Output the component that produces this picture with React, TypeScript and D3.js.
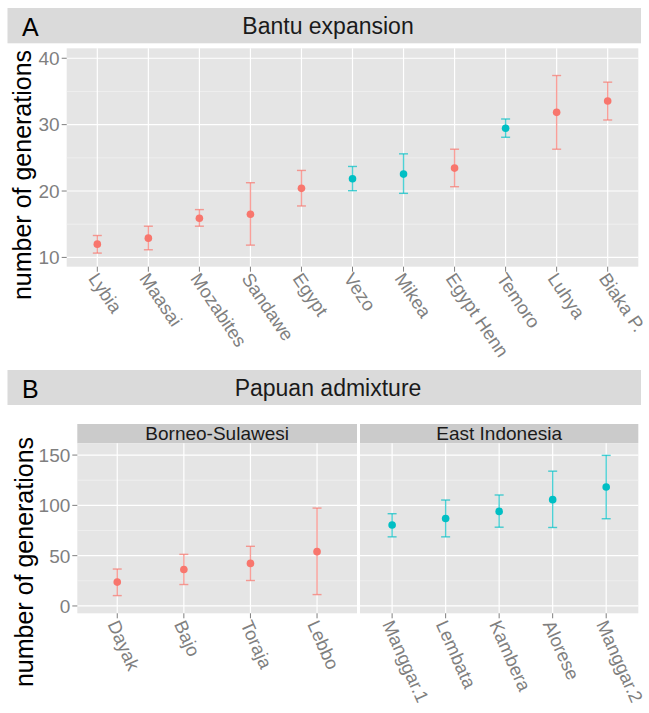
import * as d3 from 'd3';

const RED = '#F8766D';
const TEAL = '#00BFC4';
const FONT = 'Liberation Sans, Arial, Helvetica, sans-serif';

// Panel A: Bantu expansion
const bantuPops = ['Lybia', 'Maasai', 'Mozabites', 'Sandawe', 'Egypt', 'Vezo', 'Mikea', 'Egypt Henn', 'Temoro', 'Luhya', 'Biaka P.'];
const bantuMean = [12.0, 12.9, 15.9, 16.5, 20.4, 21.85, 22.55, 23.45, 29.45, 31.85, 33.55];
const bantuLow = [10.65, 11.15, 14.7, 11.85, 17.75, 20.05, 19.65, 20.65, 28.1, 26.3, 30.7];
const bantuHigh = [13.3, 14.7, 17.2, 21.25, 23.1, 23.7, 25.6, 26.3, 30.85, 37.4, 36.4];
const bantuGroup = [0, 0, 0, 0, 0, 1, 1, 0, 1, 0, 0];
const bantuTicks = [10, 20, 30, 40];
const bantuMinor = [15, 25, 35];

// Panel B: Papuan admixture
const borneoPops = ['Dayak', 'Bajo', 'Toraja', 'Lebbo'];
const borneoMean = [23.7, 36.3, 42.3, 54];
const borneoLow = [10.3, 21.3, 25.3, 11.3];
const borneoHigh = [36.7, 51.3, 59.3, 97.3];
const eastPops = ['Manggar.1', 'Lembata', 'Kambera', 'Alorese', 'Manggar.2'];
const eastMean = [80.5, 87, 94, 105.7, 118.3];
const eastLow = [68.7, 68.7, 78.3, 78, 86.7];
const eastHigh = [91.7, 105.3, 110.3, 134, 149.7];
const papuanTicks = [0, 50, 100, 150];
const papuanMinor = [25, 75, 125];

type PanelProps = {
  x0: number; x1: number; y0: number; y1: number;
  pops: string[]; mean: number[]; low: number[]; high: number[]; colors: string[];
  domain: [number, number]; ticks: number[]; minor: number[];
  showY: boolean; angle: number; labelSize: number;
};

function Panel(p: PanelProps) {
  const x = d3.scalePoint<string>().domain(p.pops).range([p.x0, p.x1]).padding(0.6);
  const y = d3.scaleLinear().domain(p.domain).range([p.y1, p.y0]);
  return (
    <g>
      <rect x={p.x0} y={p.y0} width={p.x1 - p.x0} height={p.y1 - p.y0} fill="#e5e5e5" />
      {p.minor.map(t => (
        <line key={'m' + t} x1={p.x0} x2={p.x1} y1={y(t)} y2={y(t)} stroke="#f2f2f2" strokeWidth={0.7} />
      ))}
      {p.ticks.map(t => (
        <line key={'g' + t} x1={p.x0} x2={p.x1} y1={y(t)} y2={y(t)} stroke="#ffffff" strokeWidth={1.2} />
      ))}
      {p.pops.map(d => (
        <line key={'v' + d} x1={x(d)} x2={x(d)} y1={p.y0} y2={p.y1} stroke="#ffffff" strokeWidth={1.2} />
      ))}
      {p.pops.map((d, i) => {
        const cx = x(d)!;
        return (
          <g key={'e' + d} stroke={p.colors[i]} strokeOpacity={0.7} strokeWidth={1.4}>
            <line x1={cx} x2={cx} y1={y(p.low[i])} y2={y(p.high[i])} />
            <line x1={cx - 4.5} x2={cx + 4.5} y1={y(p.low[i])} y2={y(p.low[i])} />
            <line x1={cx - 4.5} x2={cx + 4.5} y1={y(p.high[i])} y2={y(p.high[i])} />
          </g>
        );
      })}
      {p.pops.map((d, i) => (
        <circle key={'c' + d} cx={x(d)} cy={y(p.mean[i])} r={3.8} fill={p.colors[i]} />
      ))}
      {p.showY && p.ticks.map(t => (
        <g key={'yt' + t}>
          <line x1={p.x0 - 5} x2={p.x0} y1={y(t)} y2={y(t)} stroke="#7f7f7f" strokeWidth={1} />
          <text x={p.x0 - 7} y={y(t)} dy="0.36em" textAnchor="end" fontSize={19} fill="#7f7f7f">{t}</text>
        </g>
      ))}
      {p.pops.map(d => (
        <g key={'xt' + d}>
          <line x1={x(d)} x2={x(d)} y1={p.y1} y2={p.y1 + 5} stroke="#7f7f7f" strokeWidth={1} />
          <text transform={`translate(${x(d)! - 4},${p.y1 + 8}) rotate(${p.angle})`} dy="0.36em"
            textAnchor="start" fontSize={p.labelSize} fill="#7f7f7f">{d}</text>
        </g>
      ))}
    </g>
  );
}

function Strip({ y0, y1, letter, title }: { y0: number; y1: number; letter: string; title: string }) {
  return (
    <g>
      <rect x={7.5} y={y0} width={633.5} height={y1 - y0} fill="#dadada" />
      <text x={22} y={y1 - 7} fontSize={25} fill="#000">{letter}</text>
      <text x={328} y={(y0 + y1) / 2} dy="0.36em" textAnchor="middle" fontSize={23} fill="#1a1a1a">{title}</text>
    </g>
  );
}

export default function App() {
  const bantuColors = bantuGroup.map(g => (g ? TEAL : RED));
  return (
    <svg width={649} height={713} style={{ display: 'block', position: 'absolute', left: 0, top: 0 }}
      fontFamily={FONT}>
      <rect width={649} height={713} fill="#fff" />
      <Strip y0={8} y1={43.3} letter="A" title="Bantu expansion" />
      <Panel x0={66.7} x1={638.3} y0={48.3} y1={266.7} pops={bantuPops} mean={bantuMean} low={bantuLow}
        high={bantuHigh} colors={bantuColors} domain={[8.6, 41.5]} ticks={bantuTicks} minor={bantuMinor}
        showY angle={56} labelSize={18.5} />
      <text transform="translate(31,175) rotate(-90)" textAnchor="middle" fontSize={25} fill="#000">number of generations</text>

      <Strip y0={370} y1={405} letter="B" title="Papuan admixture" />
      <rect x={77.3} y={424} width={279.7} height={19.3} fill="#cbcbcb" />
      <text x={(77.3 + 357) / 2} y={433.6} dy="0.36em" textAnchor="middle" fontSize={19} fill="#1a1a1a">Borneo-Sulawesi</text>
      <rect x={360} y={424} width={278.3} height={19.3} fill="#cbcbcb" />
      <text x={(360 + 638.3) / 2} y={433.6} dy="0.36em" textAnchor="middle" fontSize={19} fill="#1a1a1a">East Indonesia</text>
      <Panel x0={77.3} x1={357} y0={443.3} y1={613.3} pops={borneoPops} mean={borneoMean} low={borneoLow}
        high={borneoHigh} colors={borneoPops.map(() => RED)} domain={[-7.3, 161.7]} ticks={papuanTicks}
        minor={papuanMinor} showY angle={66} labelSize={18.5} />
      <Panel x0={360} x1={638.3} y0={443.3} y1={613.3} pops={eastPops} mean={eastMean} low={eastLow}
        high={eastHigh} colors={eastPops.map(() => TEAL)} domain={[-7.3, 161.7]} ticks={papuanTicks}
        minor={papuanMinor} showY={false} angle={66} labelSize={18.5} />
      <text transform="translate(33,562) rotate(-90)" textAnchor="middle" fontSize={25} fill="#000">number of generations</text>
    </svg>
  );
}
